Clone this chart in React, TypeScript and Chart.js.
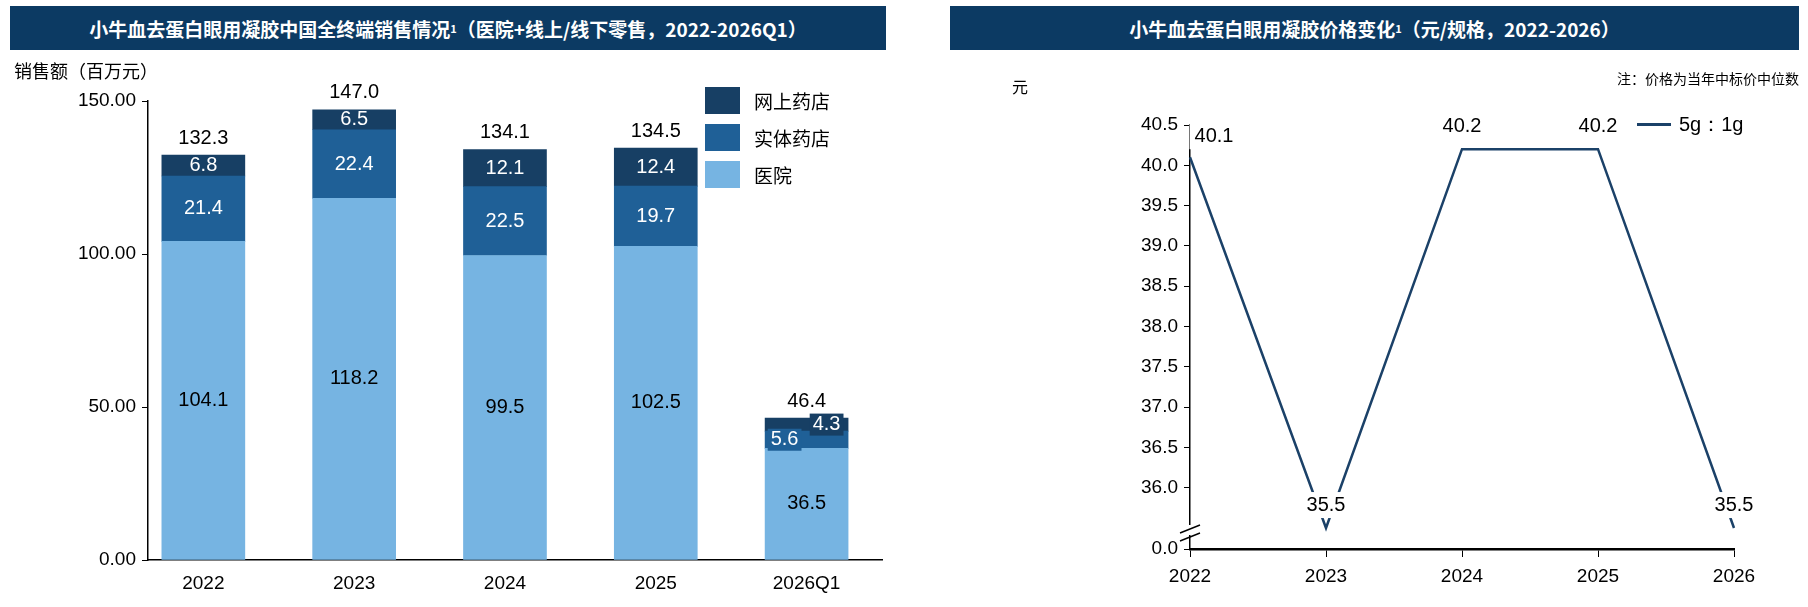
import React, { useEffect, useRef } from "react";
import { Chart, registerables } from "chart.js";
Chart.register(...registerables);

const barCats = ["2022", "2023", "2024", "2025", "2026Q1"];
const hospital = [104.1, 118.2, 99.5, 102.5, 36.5];
const physical = [21.4, 22.4, 22.5, 19.7, 5.6];
const online = [6.8, 6.5, 12.1, 12.4, 4.3];
const totals = [132.3, 147.0, 134.1, 134.5, 46.4];
const barTicks = [0, 50, 100, 150];

const lineCats = ["2022", "2023", "2024", "2025", "2026"];
const price = [40.1, 35.5, 40.2, 40.2, 35.5];
const priceTicks = [36.0, 36.5, 37.0, 37.5, 38.0, 38.5, 39.0, 39.5, 40.0, 40.5];
const priceMin = 35.24;

const C_DARK = "#173f64";
const C_MID = "#1f6097";
const C_LIGHT = "#76b4e2";
const TITLE_BG = "#0c3a63";
const NUM_FONT = "'Liberation Sans Narrow', 'Liberation Sans', sans-serif";
const CJK = "'Noto Sans CJK SC', sans-serif";

function BarChart() {
  const ref = useRef<HTMLCanvasElement>(null);
  useEffect(() => {
    const labelPlugin = {
      id: "barLabels",
      afterDatasetsDraw(chart: any) {
        const ctx = chart.ctx;
        ctx.save();
        ctx.font = `20px ${NUM_FONT}`;
        ctx.textAlign = "center";
        ctx.textBaseline = "middle";
        const sets = [hospital, physical, online];
        const cols = [C_LIGHT, C_MID, C_DARK];
        sets.forEach((arr, di) => {
          const meta = chart.getDatasetMeta(di);
          meta.data.forEach((bar: any, i: number) => {
            const yc = (bar.y + bar.base) / 2;
            let x = bar.x;
            const txt = arr[i].toFixed(1);
            if (i === 4 && di > 0) {
              x = bar.x + (di === 1 ? -22 : 20);
              const w = ctx.measureText(txt).width + 6;
              ctx.fillStyle = cols[di];
              ctx.fillRect(x - w / 2, yc - 11, w, 22);
            }
            ctx.fillStyle = di === 0 ? "#000" : "#fff";
            ctx.fillText(txt, x, yc);
          });
        });
        ctx.fillStyle = "#000";
        const top = chart.getDatasetMeta(2);
        top.data.forEach((bar: any, i: number) => {
          ctx.fillText(totals[i].toFixed(1), bar.x, bar.y - 17);
        });
        ctx.restore();
      },
    };
    const mk = (arr: number[], c: string, l: string) => ({
      label: l,
      data: arr.map((v, i) => ({ x: i, y: v })),
      backgroundColor: c,
      barThickness: 83,
      borderWidth: 0,
    });
    const chart = new Chart(ref.current!, {
      type: "bar",
      data: {
        datasets: [mk(hospital, C_LIGHT, "医院"), mk(physical, C_MID, "实体药店"), mk(online, C_DARK, "网上药店")],
      },
      options: {
        animation: false,
        responsive: false,
        layout: { padding: { left: 0, right: 18, top: 101, bottom: 0 } },
        plugins: { legend: { display: false }, tooltip: { enabled: false } },
        scales: {
          x: {
            type: "linear",
            offset: false,
            stacked: true,
            min: -0.367,
            max: 4.5,
            afterBuildTicks: (s: any) => { s.ticks = barCats.map((_, i) => ({ value: i })); },
            afterFit: (s: any) => { s.height = 47; },
            ticks: { callback: (v: any) => barCats[v] ?? "", color: "#000", font: { size: 19, family: NUM_FONT }, padding: 4 },
            grid: { display: false },
            border: { color: "#000", width: 1.5 },
          },
          y: {
            stacked: true,
            min: 0,
            max: 150,
            afterBuildTicks: (s: any) => { s.ticks = barTicks.map((v) => ({ value: v })); },
            afterFit: (s: any) => { s.width = 148; },
            ticks: { callback: (v: any) => Number(v).toFixed(2), color: "#000", font: { size: 19, family: NUM_FONT }, padding: 6 },
            grid: { drawOnChartArea: false, drawTicks: true, tickLength: 6, color: "#000" },
            border: { color: "#000", width: 1.5 },
          },
        },
      },
      plugins: [labelPlugin],
    });
    return () => chart.destroy();
  }, []);
  return <canvas ref={ref} width={900} height={607} style={{ position: "absolute", left: 0, top: 0 }} />;
}

function LineChart() {
  const ref = useRef<HTMLCanvasElement>(null);
  useEffect(() => {
    const plug = {
      id: "lineLabels",
      afterDatasetsDraw(chart: any) {
        const ctx = chart.ctx;
        ctx.save();
        ctx.font = `20px ${NUM_FONT}`;
        ctx.textAlign = "center";
        ctx.textBaseline = "middle";
        const meta = chart.getDatasetMeta(0);
        meta.data.forEach((p: any, i: number) => {
          const txt = price[i].toFixed(1);
          const x = i === 0 ? p.x + 24 : p.x;
          const y = i === 0 ? p.y - 21 : p.y - 23;
          const w = ctx.measureText(txt).width + 10;
          ctx.fillStyle = "#fff";
          ctx.fillRect(x - w / 2, y - 13, w, 26);
          ctx.fillStyle = "#000";
          ctx.fillText(txt, x, y);
        });
        const xa = chart.scales.y.left + chart.scales.y.width;
        const yb = chart.chartArea.bottom;
        ctx.fillStyle = "#fff";
        ctx.fillRect(xa - 3, yb - 24, 8, 10);
        ctx.strokeStyle = "#000";
        ctx.lineWidth = 1.5;
        [-14, -22].forEach((dy) => {
          ctx.beginPath();
          ctx.moveTo(xa - 10, yb + dy + 6);
          ctx.lineTo(xa + 10, yb + dy - 2);
          ctx.stroke();
        });
        ctx.restore();
      },
    };
    const chart = new Chart(ref.current!, {
      type: "line",
      data: {
        labels: lineCats,
        datasets: [{ label: "5g：1g", data: price, borderColor: "#1b4168", borderWidth: 2.5, pointRadius: 0, tension: 0, clip: false as any }],
      },
      options: {
        animation: false,
        responsive: false,
        layout: { padding: { left: 0, right: 74, top: 125, bottom: 0 } },
        plugins: { legend: { display: false }, tooltip: { enabled: false } },
        scales: {
          x: {
            offset: false,
            afterFit: (s: any) => { s.height = 58; },
            ticks: { color: "#000", font: { size: 19, family: NUM_FONT }, padding: 8 },
            grid: { drawOnChartArea: false, drawTicks: true, tickLength: 8, color: "#000" },
            border: { color: "#000", width: 2.5 },
          },
          y: {
            min: priceMin,
            max: 40.5,
            afterBuildTicks: (s: any) => { s.ticks = [{ value: priceMin }, ...priceTicks.map((v) => ({ value: v }))]; },
            afterFit: (s: any) => { s.width = 286; },
            ticks: { callback: (v: any) => (v === priceMin ? "0.0" : Number(v).toFixed(1)), color: "#000", font: { size: 19, family: NUM_FONT }, padding: 6 },
            grid: { drawOnChartArea: false, drawTicks: true, tickLength: 6, color: "#000" },
            border: { color: "#000", width: 1.5 },
          },
        },
      },
      plugins: [plug],
    });
    return () => chart.destroy();
  }, []);
  return <canvas ref={ref} width={904} height={607} style={{ position: "absolute", left: 904, top: 0 }} />;
}

const titleStyle: React.CSSProperties = {
  position: "absolute",
  background: TITLE_BG,
  color: "#fff",
  fontFamily: CJK,
  fontWeight: 700,
  fontSize: 19,
  display: "flex",
  alignItems: "center",
  justifyContent: "center",
  top: 6,
  height: 44,
};

export default function App() {
  const sw = (c: string): React.CSSProperties => ({ width: 35, height: 27, background: c, marginRight: 14 });
  const row: React.CSSProperties = { display: "flex", alignItems: "center", height: 36, marginBottom: 1 };
  return (
    <div style={{ position: "fixed", left: 0, top: 0, width: 1808, height: 607, background: "#fff", overflow: "hidden" }}>
      <BarChart />
      <LineChart />
      <div style={{ ...titleStyle, left: 10, width: 876 }}>
        小牛血去蛋白眼用凝胶中国全终端销售情况<sup style={{ fontSize: 11 }}>1</sup>（医院+线上/线下零售，2022-2026Q1）
      </div>
      <div style={{ ...titleStyle, left: 950, width: 849 }}>
        小牛血去蛋白眼用凝胶价格变化<sup style={{ fontSize: 11 }}>1</sup>（元/规格，2022-2026）
      </div>
      <div style={{ position: "absolute", left: 14, top: 57, fontFamily: CJK, fontSize: 18, color: "#000" }}>销售额（百万元）</div>
      <div style={{ position: "absolute", left: 705, top: 82, fontFamily: CJK, fontSize: 19, color: "#000" }}>
        <div style={row}><div style={sw(C_DARK)} />网上药店</div>
        <div style={row}><div style={sw(C_MID)} />实体药店</div>
        <div style={row}><div style={sw(C_LIGHT)} />医院</div>
      </div>
      <div style={{ position: "absolute", left: 1012, top: 74, fontFamily: CJK, fontSize: 16, color: "#000" }}>元</div>
      <div style={{ position: "absolute", right: 9, top: 68, fontFamily: CJK, fontSize: 14, color: "#000" }}>注：价格为当年中标价中位数</div>
      <div style={{ position: "absolute", left: 1637, top: 111, display: "flex", alignItems: "center", fontFamily: NUM_FONT, fontSize: 20, color: "#000" }}>
        <div style={{ width: 34, height: 3, background: "#1b4168", marginRight: 8 }} />5g：1g
      </div>
    </div>
  );
}
